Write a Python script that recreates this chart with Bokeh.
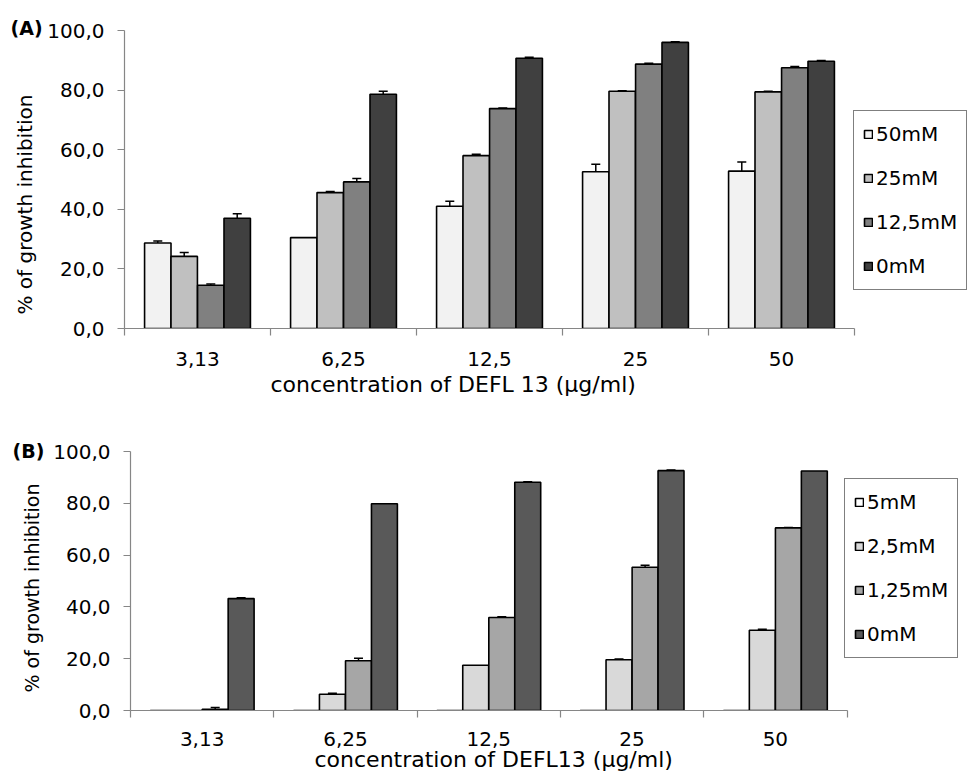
from bokeh.plotting import figure
from bokeh.layouts import column
from bokeh.models import (ColumnDataSource, Range1d, FixedTicker, Whisker, TeeHead,
                          Legend, LegendItem, Title)
from bokeh.embed import file_html
from bokeh.resources import INLINE

# ---------------- data ----------------
conc_labels = ["3,13", "6,25", "12,5", "25", "50"]
y_ticks = [0, 20, 40, 60, 80, 100]
y_tick_labels = ["0,0", "20,0", "40,0", "60,0", "80,0", "100,0"]

# Panel A
series_A = ["50mM", "25mM", "12,5mM", "0mM"]
A_50mM = [28.7, 30.5, 41.0, 52.6, 52.8]
A_50mM_err = [0.7, 0.0, 1.7, 2.5, 3.1]
A_25mM = [24.2, 45.6, 58.0, 79.6, 79.4]
A_25mM_err = [1.3, 0.4, 0.5, 0.2, 0.2]
A_12mM = [14.5, 49.2, 73.8, 88.7, 87.5]
A_12mM_err = [0.4, 1.1, 0.2, 0.3, 0.4]
A_0mM = [37.0, 78.6, 90.7, 96.0, 89.7]
A_0mM_err = [1.5, 1.0, 0.3, 0.2, 0.2]
colors_A = ["#f2f2f2", "#c0c0c0", "#808080", "#404040"]

# Panel B
series_B = ["5mM", "2,5mM", "1,25mM", "0mM"]
B_5mM = [0.0, 0.0, 0.0, 0.0, 0.0]
B_5mM_err = [0.0, 0.0, 0.0, 0.0, 0.0]
B_25mM = [0.0, 6.3, 17.5, 19.6, 31.0]
B_25mM_err = [0.0, 0.4, 0.0, 0.3, 0.4]
B_125mM = [0.5, 19.2, 35.9, 55.3, 70.5]
B_125mM_err = [0.7, 1.0, 0.3, 0.8, 0.2]
B_0mM = [43.2, 79.8, 88.1, 92.6, 92.5]
B_0mM_err = [0.3, 0.0, 0.2, 0.3, 0.0]
colors_B = ["#ffffff", "#d9d9d9", "#a6a6a6", "#595959"]

FONT = "DejaVu Sans"
AXIS_COLOR = "#868686"
BAR_W = 0.181
OFFSETS = [-0.272, -0.091, 0.091, 0.272]


def make_panel(values, errors, names, colors, letter, xtitle, width, height,
               border_left, border_top, border_bottom, x_end, legend_loc,
               letter_offset, letter_standoff, tick_standoff,
               xtitle_offset, xtitle_standoff, ytitle_offset, ytitle_size):
    p = figure(width=width, height=height, output_backend="svg", toolbar_location=None,
               x_range=Range1d(0, x_end), y_range=Range1d(0, 100),
               min_border_left=border_left, min_border_right=0,
               min_border_top=border_top, min_border_bottom=border_bottom)
    p.frame_align = False
    p.outline_line_color = None
    p.xgrid.visible = False
    p.ygrid.visible = False
    p.background_fill_color = "white"
    p.border_fill_color = "white"

    items = []
    n = len(conc_labels)
    for k, (vals, errs, name, col) in enumerate(zip(values, errors, names, colors)):
        xs = [i + 0.5 + OFFSETS[k] for i in range(n)]
        src = ColumnDataSource(dict(x=xs, top=vals))
        r = p.vbar(x="x", top="top", bottom=0, width=BAR_W, source=src,
                   fill_color=col, line_color="black", line_width=1.6)
        items.append(LegendItem(label=name, renderers=[r]))
        ex = [x for x, e in zip(xs, errs) if e > 0]
        ev = [v for v, e in zip(vals, errs) if e > 0]
        ee = [e for e in errs if e > 0]
        if ex:
            esrc = ColumnDataSource(dict(base=ex, upper=[v + e for v, e in zip(ev, ee)],
                                         lower=[v - e for v, e in zip(ev, ee)]))
            w = Whisker(base="base", upper="upper", lower="lower", source=esrc,
                        line_color="black", line_width=1.5,
                        upper_head=TeeHead(size=9, line_color="black", line_width=1.5),
                        lower_head=TeeHead(size=9, line_color="black", line_width=1.5))
            p.add_layout(w)

    # x axis
    xa = p.xaxis[0]
    xa.ticker = FixedTicker(ticks=[i + 0.5 for i in range(n)],
                            minor_ticks=list(range(n + 1)))
    xa.major_label_overrides = {i + 0.5: lab for i, lab in enumerate(conc_labels)}
    xa.bounds = (0, n)
    xa.major_tick_out = 0
    xa.major_tick_in = 0
    xa.minor_tick_out = 7
    xa.minor_tick_in = 0
    xa.axis_line_color = AXIS_COLOR
    xa.minor_tick_line_color = AXIS_COLOR
    xa.axis_line_width = 1.2
    xa.minor_tick_line_width = 1.2
    xa.major_label_text_font = FONT
    xa.major_label_text_font_size = "20px"
    xa.major_label_text_color = "black"
    xa.major_label_standoff = tick_standoff

    # y axis
    ya = p.yaxis[0]
    ya.ticker = FixedTicker(ticks=y_ticks, minor_ticks=[])
    ya.major_label_overrides = {t: lab for t, lab in zip(y_ticks, y_tick_labels)}
    ya.bounds = (0, 100)
    ya.major_tick_out = 7
    ya.major_tick_in = 0
    ya.axis_line_color = AXIS_COLOR
    ya.major_tick_line_color = AXIS_COLOR
    ya.axis_line_width = 1.2
    ya.major_tick_line_width = 1.2
    ya.major_label_text_font = FONT
    ya.major_label_text_font_size = "20px"
    ya.major_label_text_color = "black"
    ya.major_label_standoff = 13

    # panel letter as plot title
    p.title.text = letter
    p.title.align = "left"
    p.title.offset = letter_offset
    p.title.standoff = letter_standoff
    p.title.vertical_align = "bottom"
    p.title.text_font = FONT
    p.title.text_font_style = "bold"
    p.title.text_font_size = "19px"
    p.title.text_color = "black"

    # x axis title
    p.add_layout(Title(text=xtitle, align="left", offset=xtitle_offset,
                       standoff=xtitle_standoff, vertical_align="top",
                       text_font=FONT, text_font_size="22px", text_font_style="normal",
                       text_color="black"), "below")
    # y axis title
    p.add_layout(Title(text="% of growth inhibition", align="left", offset=ytitle_offset,
                       standoff=16, vertical_align="bottom",
                       text_font=FONT, text_font_size=ytitle_size, text_font_style="normal",
                       text_color="black"), "left")

    legend = Legend(items=items, location=legend_loc,
                    border_line_color="black", border_line_width=1,
                    background_fill_color="white", background_fill_alpha=1,
                    label_text_font=FONT, label_text_font_size="20px",
                    label_text_color="black",
                    glyph_width=10, glyph_height=10, label_standoff=3,
                    label_height=28, spacing=16, padding=9, margin=0)
    p.add_layout(legend)
    return p


pA = make_panel([A_50mM, A_25mM, A_12mM, A_0mM],
                [A_50mM_err, A_25mM_err, A_12mM_err, A_0mM_err],
                series_A, colors_A, "(A)", "concentration of DEFL 13 (\u00b5g/ml)",
                width=968, height=402, border_left=124, border_top=30, border_bottom=73,
                x_end=844 / 146.0, legend_loc=(729, 38),
                letter_offset=-114, letter_standoff=-16, tick_standoff=16,
                xtitle_offset=146, xtitle_standoff=7, ytitle_offset=14, ytitle_size="20px")

pB = make_panel([B_5mM, B_25mM, B_125mM, B_0mM],
                [B_5mM_err, B_25mM_err, B_125mM_err, B_0mM_err],
                series_B, colors_B, "(B)", "concentration of DEFL13 (\u00b5g/ml)",
                width=968, height=370, border_left=130, border_top=49, border_bottom=61,
                x_end=838 / 143.3, legend_loc=(714, 52),
                letter_offset=-118, letter_standoff=-20, tick_standoff=14,
                xtitle_offset=184, xtitle_standoff=-3, ytitle_offset=18, ytitle_size="19px")

layout = column(pA, pB, spacing=0)
open("out.html", "w").write(file_html(layout, INLINE))
